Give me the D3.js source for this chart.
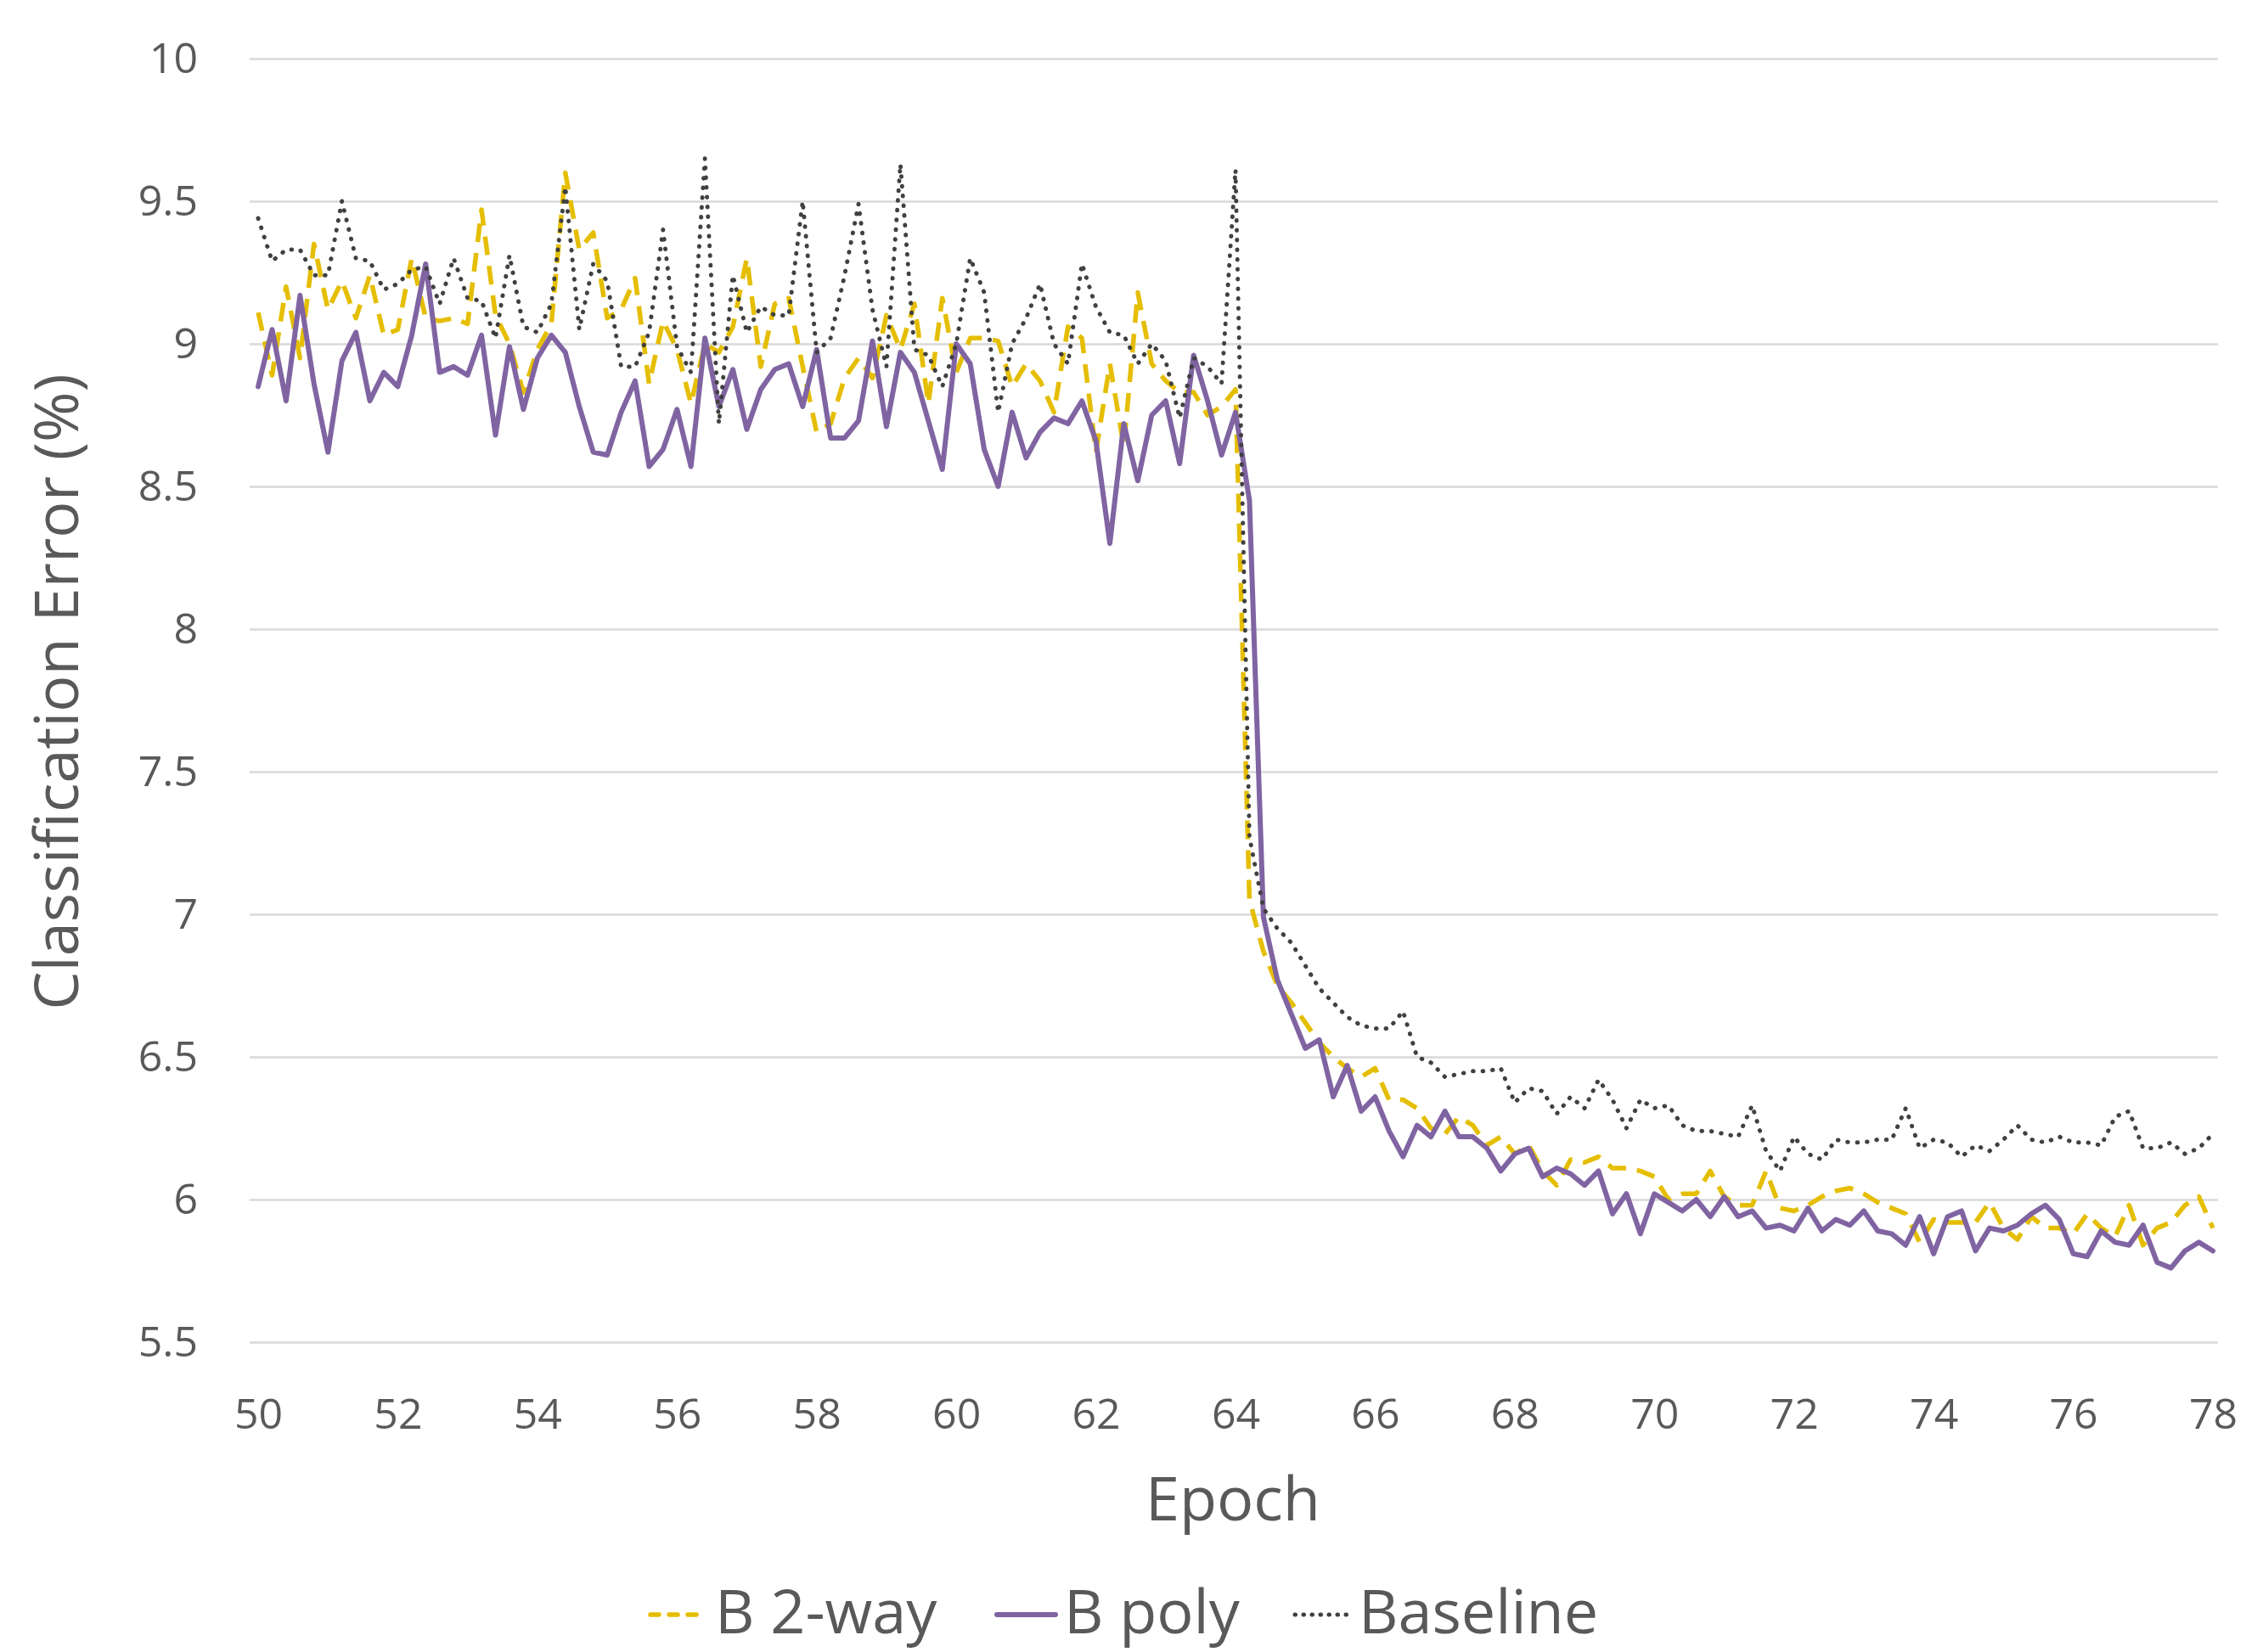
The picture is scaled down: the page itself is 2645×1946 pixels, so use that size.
<!DOCTYPE html>
<html>
<head>
<meta charset="utf-8">
<script src="https://cdn.jsdelivr.net/npm/d3@7"></script>
<style>
  html, body { margin: 0; padding: 0; background: #fff; }
  text { font-family: "Open Sans", "Noto Sans", sans-serif; fill: #595959; }
</style>
</head>
<body>
<div id="chart"></div>
<script>
/* epochs: 50 to 78, one point every 0.2 epoch */
const epochs = d3.range(141).map(i => +(50 + i * 0.2).toFixed(1));

const twoWay = [
  9.11, 8.89, 9.20, 8.95, 9.35, 9.12, 9.22, 9.09, 9.24, 9.03,
  9.05, 9.30, 9.09, 9.08, 9.09, 9.07, 9.47, 9.10, 9.00, 8.83,
  8.98, 9.07, 9.60, 9.33, 9.39, 9.09, 9.12, 9.23, 8.86, 9.08,
  8.98, 8.79, 9.00, 8.97, 9.06, 9.30, 8.92, 9.14, 9.16, 8.92,
  8.69, 8.72, 8.88, 8.95, 8.88, 9.10, 8.98, 9.14, 8.79, 9.16,
  8.90, 9.02, 9.02, 9.01, 8.85, 8.93, 8.87, 8.76, 9.06, 9.02,
  8.62, 8.93, 8.64, 9.18, 8.93, 8.87, 8.83, 8.83, 8.75, 8.78,
  8.84, 7.05, 6.87, 6.75, 6.69, 6.62, 6.55, 6.50, 6.46, 6.43,
  6.46, 6.35, 6.35, 6.32, 6.25, 6.23, 6.29, 6.26, 6.19, 6.22,
  6.16, 6.19, 6.10, 6.05, 6.14, 6.13, 6.15, 6.11, 6.11, 6.10,
  6.08, 6.00, 6.02, 6.02, 6.10, 6.01, 5.98, 5.98, 6.10, 5.97,
  5.96, 5.98, 6.01, 6.03, 6.04, 6.02, 5.99, 5.97, 5.95, 5.85,
  5.93, 5.92, 5.92, 5.92, 5.99, 5.90, 5.86, 5.94, 5.90, 5.90,
  5.88, 5.95, 5.90, 5.87, 5.98, 5.84, 5.90, 5.92, 5.98, 6.01,
  5.90
];

const poly = [
  8.85, 9.05, 8.80, 9.17, 8.86, 8.62, 8.94, 9.04, 8.80, 8.90,
  8.85, 9.03, 9.28, 8.90, 8.92, 8.89, 9.03, 8.68, 8.99, 8.77,
  8.95, 9.03, 8.97, 8.78, 8.62, 8.61, 8.76, 8.87, 8.57, 8.63,
  8.77, 8.57, 9.02, 8.78, 8.91, 8.70, 8.84, 8.91, 8.93, 8.78,
  8.98, 8.67, 8.67, 8.73, 9.01, 8.71, 8.97, 8.90, 8.73, 8.56,
  9.00, 8.93, 8.63, 8.50, 8.76, 8.60, 8.69, 8.74, 8.72, 8.80,
  8.66, 8.30, 8.72, 8.52, 8.75, 8.80, 8.58, 8.96, 8.80, 8.61,
  8.76, 8.45, 6.99, 6.77, 6.65, 6.53, 6.56, 6.36, 6.47, 6.31,
  6.36, 6.24, 6.15, 6.26, 6.22, 6.31, 6.22, 6.22, 6.18, 6.10,
  6.16, 6.18, 6.08, 6.11, 6.09, 6.05, 6.10, 5.95, 6.02, 5.88,
  6.02, 5.99, 5.96, 6.00, 5.94, 6.01, 5.94, 5.96, 5.90, 5.91,
  5.89, 5.97, 5.89, 5.93, 5.91, 5.96, 5.89, 5.88, 5.84, 5.94,
  5.81, 5.94, 5.96, 5.82, 5.90, 5.89, 5.91, 5.95, 5.98, 5.93,
  5.81, 5.80, 5.89, 5.85, 5.84, 5.91, 5.78, 5.76, 5.82, 5.85,
  5.82
];

const baseline = [
  9.44, 9.29, 9.33, 9.33, 9.24, 9.24, 9.50, 9.30, 9.29, 9.19,
  9.21, 9.26, 9.27, 9.14, 9.30, 9.16, 9.15, 9.02, 9.31, 9.06,
  9.04, 9.14, 9.55, 9.05, 9.28, 9.22, 8.92, 8.92, 9.04, 9.40,
  8.99, 8.90, 9.65, 8.72, 9.24, 9.04, 9.13, 9.10, 9.10, 9.50,
  8.97, 9.02, 9.24, 9.49, 9.12, 8.92, 9.63, 8.98, 8.96, 8.85,
  9.00, 9.30, 9.18, 8.76, 9.00, 9.09, 9.21, 9.00, 8.93, 9.28,
  9.13, 9.04, 9.03, 8.93, 9.00, 8.94, 8.74, 8.95, 8.92, 8.86,
  9.61, 7.27, 7.02, 6.95, 6.90, 6.82, 6.74, 6.69, 6.64, 6.61,
  6.60, 6.60, 6.66, 6.50, 6.48, 6.43, 6.44, 6.45, 6.45, 6.46,
  6.34, 6.39, 6.38, 6.30, 6.36, 6.32, 6.42, 6.35, 6.25, 6.35,
  6.32, 6.33, 6.26, 6.24, 6.24, 6.23, 6.22, 6.33, 6.17, 6.10,
  6.22, 6.16, 6.14, 6.21, 6.20, 6.20, 6.21, 6.21, 6.32, 6.18,
  6.21, 6.20, 6.15, 6.19, 6.17, 6.21, 6.26, 6.21, 6.20, 6.22,
  6.20, 6.20, 6.19, 6.29, 6.31, 6.18, 6.18, 6.20, 6.16, 6.18,
  6.23
];

const yTicks = [5.5, 6, 6.5, 7, 7.5, 8, 8.5, 9, 9.5, 10];
const xTicks = [50, 52, 54, 56, 58, 60, 62, 64, 66, 68, 70, 72, 74, 76, 78];

const series = [
  { name: 'B 2-way', values: twoWay, color: '#E5BE01', width: 5.5, dash: '22,13', cap: 'butt', legendDash: '10,12' },
  { name: 'B poly', values: poly, color: '#8064A2', width: 6, dash: null, cap: 'round', legendDash: null },
  { name: 'Baseline', values: baseline, color: '#404040', width: 5, dash: '0.5,11', cap: 'round', legendDash: '0.5,9.5' }
];

const W = 2645, H = 1946;
const gridLeft = 294, gridRight = 2612;

const svg = d3.select('#chart').append('svg')
  .attr('width', W)
  .attr('height', H);

svg.append('rect').attr('width', W).attr('height', H).attr('fill', '#fff');

/*Escalas*/
const x = d3.scaleLinear().domain([50, 78]).range([304, 2606]);
const y = d3.scaleLinear().domain([5.5, 10]).range([1581, 69]);

/*Eje Y con rejilla*/
const yAxis = d3.axisLeft(y)
  .tickValues(yTicks)
  .tickFormat(d => String(d))
  .tickSize(-(gridRight - gridLeft))
  .tickPadding(61);

svg.append('g')
  .attr('transform', `translate(${gridLeft},0)`)
  .call(yAxis)
  .call(g => g.select('.domain').remove())
  .call(g => g.selectAll('line').attr('stroke', '#d9d9d9').attr('stroke-width', 2.5))
  .call(g => g.selectAll('text')
    .attr('fill', '#595959')
    .style('font-size', '50px'));

/*Eje X*/
const xAxis = d3.axisBottom(x)
  .tickValues(xTicks)
  .tickFormat(d3.format('d'))
  .tickSize(0)
  .tickPadding(66);

svg.append('g')
  .attr('transform', `translate(0,${y(5.5)})`)
  .call(xAxis)
  .call(g => g.select('.domain').remove())
  .call(g => g.selectAll('text')
    .attr('fill', '#595959')
    .style('font-size', '50px'));

/*Títulos de ejes*/
svg.append('text')
  .attr('x', 1452)
  .attr('y', 1791)
  .attr('text-anchor', 'middle')
  .style('font-size', '72px')
  .text('Epoch');

svg.append('text')
  .attr('transform', 'translate(92,815) rotate(-90)')
  .attr('text-anchor', 'middle')
  .style('font-size', '72px')
  .text('Classification Error (%)');

/*Líneas*/
const line = d3.line()
  .x((d, i) => x(epochs[i]))
  .y(d => y(d));

series.forEach(s => {
  svg.append('path')
    .datum(s.values)
    .attr('fill', 'none')
    .attr('stroke', s.color)
    .attr('stroke-width', s.width)
    .attr('stroke-linejoin', 'round')
    .attr('stroke-linecap', s.cap)
    .attr('stroke-dasharray', s.dash)
    .attr('d', line);
});

/*Leyenda*/
const legendItems = [
  { s: series[0], x1: 766, x2: 830, tx: 842 },
  { s: series[1], x1: 1174, x2: 1243, tx: 1253 },
  { s: series[2], x1: 1525, x2: 1590, tx: 1600 }
];

const legend = svg.append('g').attr('id', 'legend');
legendItems.forEach(l => {
  legend.append('line')
    .attr('x1', l.x1)
    .attr('x2', l.x2)
    .attr('y1', 1902)
    .attr('y2', 1902)
    .attr('stroke', l.s.color)
    .attr('stroke-width', l.s.width)
    .attr('stroke-linecap', 'round')
    .attr('stroke-dasharray', l.s.legendDash);
  legend.append('text')
    .attr('x', l.tx)
    .attr('y', 1924)
    .style('font-size', '72px')
    .text(l.s.name);
});
</script>
</body>
</html>
